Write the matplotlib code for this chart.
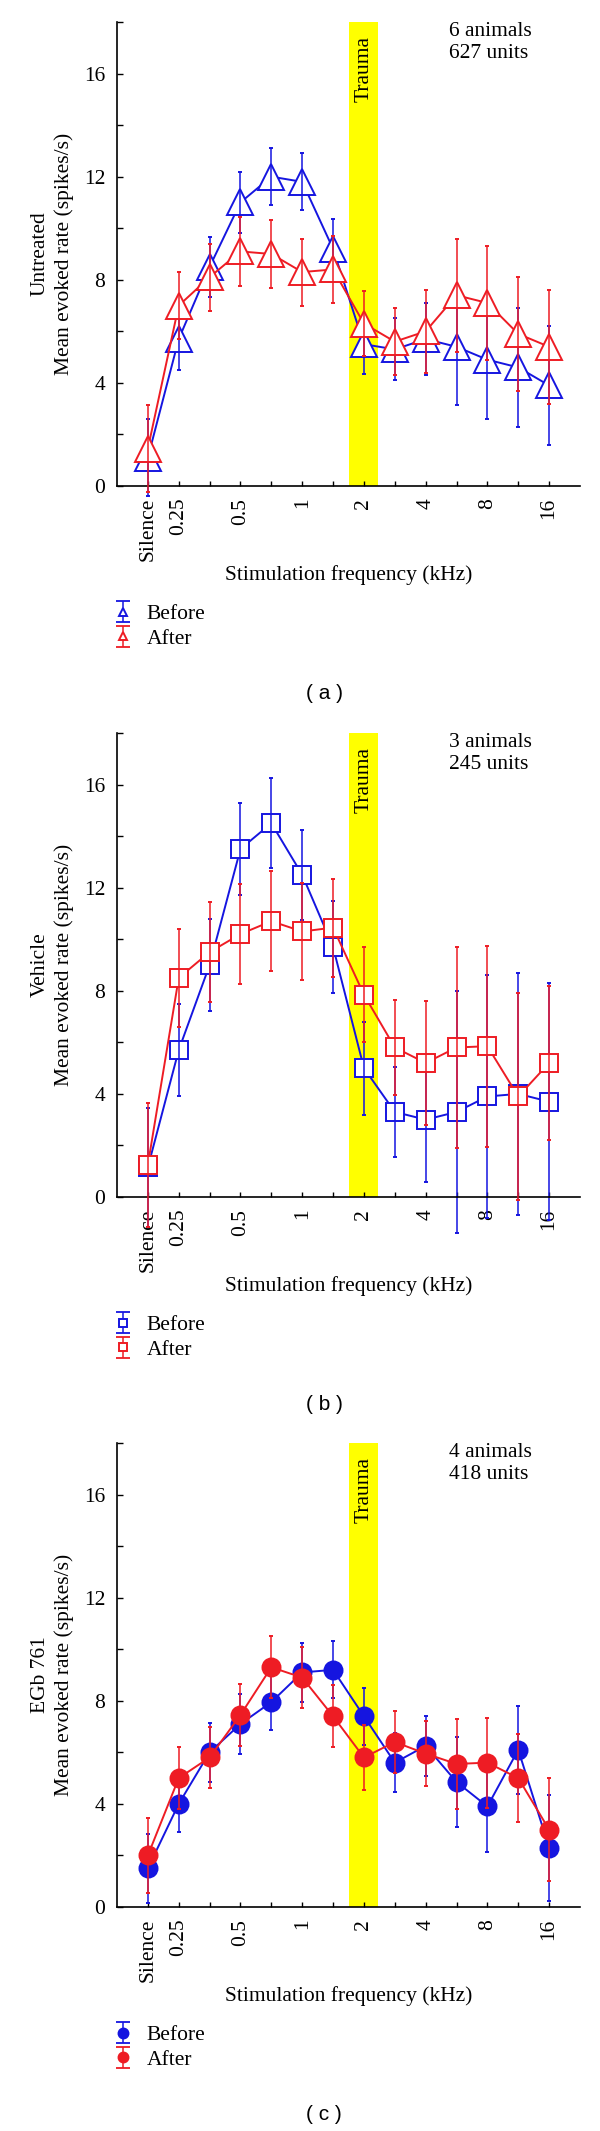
import numpy as np
import matplotlib
matplotlib.use('Agg')
import matplotlib.pyplot as plt
from matplotlib.container import ErrorbarContainer
from matplotlib.legend_handler import HandlerErrorbar
from matplotlib.lines import Line2D
from matplotlib.ticker import MultipleLocator

# stimulation frequencies (kHz), every other one labelled
FREQ_LABELS = ['Silence', '0.25', '', '0.5', '', '1', '', '2', '', '4', '', '8', '', '16']
TRAUMA = '2'

# (a) untreated
untreated_before = [1.1, 5.7, 8.5, 11.0, 12.0, 11.8, 9.2, 5.5, 5.3, 5.7, 5.4, 4.9, 4.6, 3.9]
untreated_before_err = [1.5, 1.2, 1.15, 1.2, 1.1, 1.1, 1.15, 1.15, 1.2, 1.4, 2.25, 2.3, 2.3, 2.3]
untreated_after = [1.45, 7.0, 8.1, 9.1, 9.0, 8.3, 8.4, 6.3, 5.6, 6.0, 7.4, 7.1, 5.9, 5.4]
untreated_after_err = [1.7, 1.3, 1.3, 1.35, 1.3, 1.3, 1.3, 1.25, 1.3, 1.6, 2.2, 2.2, 2.2, 2.2]

# (b) vehicle
vehicle_before = [1.15, 5.7, 9.0, 13.5, 14.5, 12.5, 9.7, 5.0, 3.3, 3.0, 3.3, 3.9, 4.0, 3.7]
vehicle_before_err = [2.3, 1.8, 1.8, 1.8, 1.75, 1.75, 1.77, 1.8, 1.75, 2.4, 4.7, 4.7, 4.7, 4.6]
vehicle_after = [1.25, 8.5, 9.5, 10.2, 10.7, 10.3, 10.45, 7.85, 5.8, 5.2, 5.8, 5.85, 3.9, 5.2]
vehicle_after_err = [2.4, 1.9, 1.95, 1.95, 1.95, 1.9, 1.9, 1.85, 1.85, 2.4, 3.9, 3.9, 4.0, 3.0]

# (c) EGb 761
egb_before = [1.5, 4.0, 6.0, 7.1, 7.95, 9.1, 9.2, 7.4, 5.6, 6.25, 4.85, 3.9, 6.1, 2.3]
egb_before_err = [1.35, 1.1, 1.15, 1.15, 1.1, 1.15, 1.1, 1.1, 1.15, 1.15, 1.75, 1.75, 1.7, 2.05]
egb_after = [2.0, 5.0, 5.8, 7.45, 9.3, 8.9, 7.4, 5.8, 6.4, 5.95, 5.55, 5.6, 5.0, 3.0]
egb_after_err = [1.45, 1.2, 1.2, 1.2, 1.2, 1.17, 1.2, 1.25, 1.2, 1.25, 1.75, 1.75, 1.72, 2.0]

GROUPS = ['Untreated', 'Vehicle', 'EGb 761']
COUNTS = ['6 animals\n627 units', '3 animals\n245 units', '4 animals\n418 units']
LETTERS = ['( a )', '( b )', '( c )']

BLUE = '#1515e0'
RED = '#ee1c24'
W, H = 600, 2131

plt.rcParams['font.family'] = 'serif'
plt.rcParams['font.serif'] = ['Liberation Serif', 'DejaVu Serif']
FS = 15.5


class LegendBar(HandlerErrorbar):
    def create_artists(self, legend, orig_handle, xdescent, ydescent,
                       width, height, fontsize, trans):
        arts = super().create_artists(legend, orig_handle, xdescent, ydescent,
                                      width, height, fontsize, trans)
        for a in arts:
            if isinstance(a, Line2D) and a.get_marker() == '_':
                a.set_markersize(10)
                a.set_markeredgewidth(1.3)
        return arts


panels = [
    (untreated_before, untreated_before_err, untreated_after, untreated_after_err, '^', 18.5, False, 0.32),
    (vehicle_before, vehicle_before_err, vehicle_after, vehicle_after_err, 's', 13, False, 0.44),
    (egb_before, egb_before_err, egb_after, egb_after_err, 'o', 13, True, 0.55),
]
bottoms = [486, 1197, 1907]  # pixel row of the x axis

fig = plt.figure(figsize=(W / 100, H / 100), dpi=100)
x = np.arange(len(FREQ_LABELS))
t = FREQ_LABELS.index(TRAUMA)

for i, (bef, bef_e, aft, aft_e, mk, ms, filled, mscale) in enumerate(panels):
    bot = bottoms[i]
    ax = fig.add_axes([117 / W, 1 - bot / H, 463 / W, 464 / H])
    ax.axvspan(t - 0.47, t + 0.47, color='#ffff00', lw=0, zorder=0)

    handles = []
    for k, (y, e, col, lab) in enumerate([(bef, bef_e, BLUE, 'Before'), (aft, aft_e, RED, 'After')]):
        z = 2 + k
        ax.plot(x, y, color=col, lw=1.4, zorder=z)
        cont = ax.errorbar(x, y, yerr=e, fmt=mk, ls='none', ms=ms,
                           mfc=col if filled else 'white', mec=col, mew=1.4,
                           ecolor=col, elinewidth=1.1, capsize=1.2, capthick=1.2,
                           barsabove=True, zorder=z + 0.5, label=lab)
        for a in [cont[0], *cont[1], *cont[2]]:
            a.set_clip_on(False)
        handles.append(cont)

    ax.set_xlim(-1, 14)
    ax.set_ylim(0, 18)
    ax.set_xticks(x)
    ax.set_xticklabels(FREQ_LABELS, rotation=90, fontsize=FS)
    ax.yaxis.set_major_locator(MultipleLocator(4))
    ax.yaxis.set_minor_locator(MultipleLocator(2))
    ax.tick_params(axis='x', direction='in', length=3.5, width=1, pad=8.5)
    ax.tick_params(axis='y', which='both', direction='in', length=4.5, width=1, pad=8.5, labelsize=FS)
    for s in ['top', 'right']:
        ax.spines[s].set_visible(False)
    for s in ['left', 'bottom']:
        ax.spines[s].set_linewidth(1.2)

    ax.set_ylabel(GROUPS[i] + '\nMean evoked rate (spikes/s)', fontsize=FS, linespacing=1.3)
    ax.yaxis.set_label_coords(-0.093, 0.5)
    ax.set_xlabel('Stimulation frequency (kHz)', fontsize=FS)
    ax.xaxis.set_label_coords(0.5, -79 / 464)

    ax.text(t, 17.45, 'Trauma', rotation=90, ha='center', va='top', fontsize=FS)
    ax.text(0.717, 1.0, COUNTS[i], transform=ax.transAxes, ha='left', va='top',
            fontsize=FS, linespacing=1.2)

    ax.legend(handles, ['Before', 'After'], loc='upper left',
              bbox_to_anchor=(112 / W, 1 - (bot + 118) / H), bbox_transform=fig.transFigure,
              frameon=False, borderpad=0, borderaxespad=0, handlelength=1.0,
              handletextpad=0.6, labelspacing=0.22, markerscale=mscale, fontsize=FS,
              handler_map={ErrorbarContainer: LegendBar()})

    fig.text(324 / W, 1 - (bot + 207) / H, LETTERS[i], ha='center', va='center',
             family='Liberation Sans', fontsize=15)

fig.savefig('out.png', dpi=100)
